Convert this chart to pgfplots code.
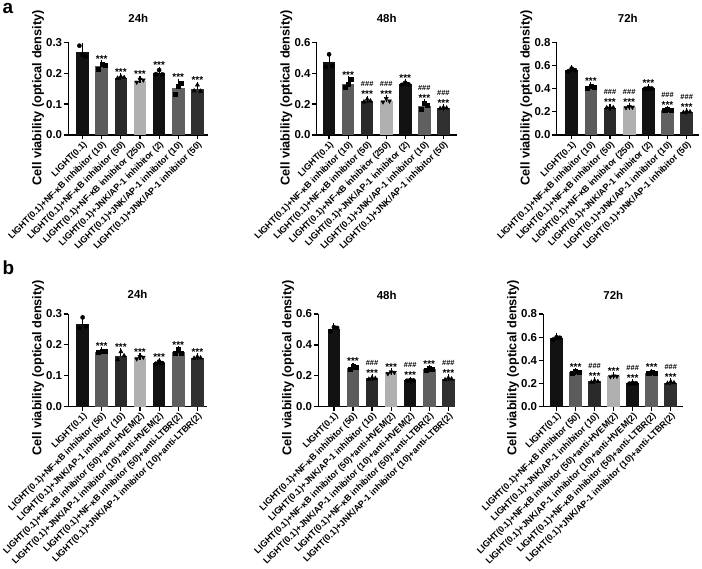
\documentclass[border=0pt]{standalone}
\usepackage{fontspec}
\setmainfont{Liberation Sans}
\usepackage{pgfplots}
\pgfplotsset{compat=1.18}

% bar fills, in group order
\definecolor{barA}{HTML}{121212}
\definecolor{barB}{HTML}{5C5C5C}
\definecolor{barC}{HTML}{2A2A2A}
\definecolor{barD}{HTML}{B0B0B0}
\definecolor{barE}{HTML}{121212}
\definecolor{barF}{HTML}{606060}
\definecolor{barG}{HTML}{303030}

\tikzset{
  starst/.style={font=\bfseries\fontsize{10}{10}\selectfont, anchor=south, inner sep=1bp},
  hashst/.style={font=\bfseries\fontsize{7.5}{7.5}\selectfont, anchor=south, inner sep=1bp, yshift=11bp},
}

\pgfplotsset{
  mk1/.style={mark=*, mark size=2.1bp},
  mk2/.style={mark=square*, mark size=2.0bp},
  mk3/.style={mark=triangle*, mark size=2.4bp},
  mk4/.style={mark=triangle*, mark size=2.4bp, mark options={rotate=180}},
  panel/.style={
    scale only axis, height=92.7bp, ymin=0, clip=false,
    axis x line*=bottom, axis y line*=left,
    axis line style={line width=1.3bp, -},
    tick style={black, line width=1.2bp},
    major tick length=4.5bp, tick align=outside,
    xtick={0,...,6},
    xticklabel style={rotate=45, anchor=north east, inner sep=0.5bp,
      font=\bfseries\fontsize{9}{9}\selectfont},
    yticklabel style={font=\bfseries\fontsize{11.5}{12}\selectfont, inner sep=1.5bp},
    /pgf/number format/assume math mode=true,
    /pgf/number format/fixed,
    /pgf/number format/fixed zerofill,
    /pgf/number format/precision=1,
    scaled y ticks=false,
    ylabel={Cell viability (optical density)},
    ylabel style={font=\bfseries\fontsize{12.8}{13}\selectfont, anchor=south, inner sep=0.5bp},
  },
  labelsA/.style={xticklabels={LIGHT(0.1), LIGHT(0.1)+NF-κB inhibitor (10), LIGHT(0.1)+NF-κB inhibitor (50), LIGHT(0.1)+NF-κB inhibitor (250), LIGHT(0.1)+JNK/AP-1 inhibitor (2), LIGHT(0.1)+JNK/AP-1 inhibitor (10), LIGHT(0.1)+JNK/AP-1 inhibitor (50)},
    ylabel style={at={(ticklabel cs:0.40)}}},
  labelsB/.style={xticklabels={LIGHT(0.1), LIGHT(0.1)+NF-κB inhibitor (50), LIGHT(0.1)+JNK/AP-1 inhibitor (10), LIGHT(0.1)+NF-κB inhibitor (50)+anti-HVEM(2), LIGHT(0.1)+JNK/AP-1 inhibitor (10)+anti-HVEM(2), LIGHT(0.1)+NF-κB inhibitor (50)+anti-LTBR(2), LIGHT(0.1)+JNK/AP-1 inhibitor (10)+anti-LTBR(2)},
    ylabel style={at={(ticklabel cs:0.42)}}},
}

% one group: x, fill, marker, mean, SD, three replicates, significance (0 none, 1 ***, 2 ### and ***)
\newcommand{\gbar}[9]{%
  \addplot[ybar, bar width=0.66, bar shift=0pt, fill=#2, draw=none,
    error bars/.cd, y dir=plus, y explicit,
    error bar style={black, line width=1.1bp},
    error mark options={black, line width=1.1bp, mark size=3.5bp}]
    coordinates {(#1,#4) +- (0,#5)};
  \pgfmathsetmacro\xl{#1-0.17}%
  \pgfmathsetmacro\xr{#1+0.17}%
  \addplot[only marks, black, #3] coordinates {(\xl,#6) (#1,#7) (\xr,#8)};
  \pgfmathsetmacro\topv{max(#4+#5,#6,#7,#8)}%
  \ifcase#9\relax\or
    \addplot[draw=none, mark=none, nodes near coords={***},
      every node near coord/.append style={starst}] coordinates {(#1,\topv)};
  \or
    \addplot[draw=none, mark=none, nodes near coords={***},
      every node near coord/.append style={starst}] coordinates {(#1,\topv)};
    \addplot[draw=none, mark=none, nodes near coords={\#\#\#},
      every node near coord/.append style={hashst}] coordinates {(#1,\topv)};
  \fi
}

\newcommand{\ttl}[2]{\node[font=\bfseries\fontsize{11.5}{12}\selectfont, anchor=base, yshift=#2] at (rel axis cs:0.5,1) {#1};}

\begin{document}
\begin{tikzpicture}
\path[use as bounding box] (0bp,0bp) rectangle (702bp,569bp);

\node[anchor=base west, inner sep=0, font=\bfseries\fontsize{19}{19}\selectfont] at (2.5bp,555.7bp) {a};
\node[anchor=base west, inner sep=0, font=\bfseries\fontsize{19}{19}\selectfont] at (2.5bp,294bp) {b};

% ---------- a: 24h ----------
\begin{axis}[panel, labelsA, at={(68.3bp,434bp)}, anchor=south west, width=140bp,
  xmin=-0.75, xmax=6.57, ymax=0.3, ytick={0,0.1,0.2,0.3}]
\gbar{0}{barA}{mk1}{0.268}{0.019}{0.289}{0.259}{0.254}{0}
\gbar{1}{barB}{mk2}{0.222}{0.008}{0.212}{0.230}{0.226}{1}
\gbar{2}{barC}{mk3}{0.185}{0.004}{0.184}{0.189}{0.186}{1}
\gbar{3}{barD}{mk4}{0.176}{0.005}{0.171}{0.180}{0.178}{1}
\gbar{4}{barE}{mk1}{0.201}{0.007}{0.197}{0.210}{0.196}{1}
\gbar{5}{barF}{mk2}{0.152}{0.019}{0.132}{0.157}{0.167}{1}
\gbar{6}{barG}{mk3}{0.149}{0.011}{0.143}{0.162}{0.142}{1}
\ttl{24h}{19.5bp}
\end{axis}

% ---------- a: 48h ----------
\begin{axis}[panel, labelsA, at={(316.7bp,434bp)}, anchor=south west, width=140bp,
  xmin=-0.65, xmax=6.7, ymax=0.6, ytick={0,0.2,0.4,0.6}]
\gbar{0}{barA}{mk1}{0.470}{0.046}{0.440}{0.522}{0.448}{0}
\gbar{1}{barB}{mk2}{0.333}{0.025}{0.312}{0.328}{0.360}{1}
\gbar{2}{barC}{mk3}{0.222}{0.009}{0.214}{0.232}{0.221}{2}
\gbar{3}{barD}{mk4}{0.223}{0.012}{0.214}{0.236}{0.220}{2}
\gbar{4}{barE}{mk1}{0.330}{0.007}{0.325}{0.338}{0.328}{1}
\gbar{5}{barF}{mk2}{0.188}{0.020}{0.166}{0.203}{0.195}{2}
\gbar{6}{barG}{mk3}{0.175}{0.003}{0.172}{0.178}{0.175}{2}
\ttl{48h}{19.5bp}
\end{axis}

% ---------- a: 72h ----------
\begin{axis}[panel, labelsA, at={(556.7bp,434bp)}, anchor=south west, width=142.3bp,
  xmin=-0.78, xmax=6.64, ymax=0.8, ytick={0,0.2,0.4,0.6,0.8}]
\gbar{0}{barA}{mk1}{0.561}{0.012}{0.550}{0.574}{0.560}{0}
\gbar{1}{barB}{mk2}{0.415}{0.010}{0.405}{0.424}{0.416}{1}
\gbar{2}{barC}{mk3}{0.237}{0.003}{0.235}{0.240}{0.236}{2}
\gbar{3}{barD}{mk4}{0.240}{0.005}{0.236}{0.245}{0.240}{2}
\gbar{4}{barE}{mk1}{0.402}{0.004}{0.399}{0.405}{0.402}{1}
\gbar{5}{barF}{mk2}{0.216}{0.005}{0.212}{0.222}{0.215}{2}
\gbar{6}{barG}{mk3}{0.200}{0.005}{0.195}{0.205}{0.200}{2}
\ttl{72h}{19.5bp}
\end{axis}

% ---------- b: 24h ----------
\begin{axis}[panel, labelsB, at={(68.3bp,162.3bp)}, anchor=south west, width=138.4bp,
  xmin=-0.75, xmax=6.49, ymax=0.3, ytick={0,0.1,0.2,0.3}]
\gbar{0}{barA}{mk1}{0.268}{0.019}{0.255}{0.289}{0.260}{0}
\gbar{1}{barB}{mk2}{0.178}{0.003}{0.176}{0.181}{0.178}{1}
\gbar{2}{barC}{mk3}{0.165}{0.013}{0.152}{0.178}{0.165}{1}
\gbar{3}{barD}{mk4}{0.159}{0.004}{0.155}{0.162}{0.160}{1}
\gbar{4}{barE}{mk1}{0.142}{0.004}{0.139}{0.146}{0.141}{1}
\gbar{5}{barF}{mk2}{0.176}{0.008}{0.172}{0.185}{0.172}{1}
\gbar{6}{barG}{mk3}{0.159}{0.003}{0.157}{0.162}{0.158}{1}
\ttl{24h}{15bp}
\end{axis}

% ---------- b: 48h ----------
\begin{axis}[panel, labelsB, at={(318.3bp,162.3bp)}, anchor=south west, width=136.7bp,
  xmin=-0.82, xmax=6.35, ymax=0.6, ytick={0,0.2,0.4,0.6}]
\gbar{0}{barA}{mk1}{0.505}{0.013}{0.490}{0.515}{0.510}{0}
\gbar{1}{barB}{mk2}{0.253}{0.010}{0.243}{0.262}{0.255}{1}
\gbar{2}{barC}{mk3}{0.183}{0.005}{0.178}{0.188}{0.183}{2}
\gbar{3}{barD}{mk4}{0.220}{0.006}{0.214}{0.225}{0.222}{1}
\gbar{4}{barE}{mk1}{0.170}{0.002}{0.168}{0.172}{0.170}{2}
\gbar{5}{barF}{mk2}{0.242}{0.006}{0.236}{0.247}{0.243}{1}
\gbar{6}{barG}{mk3}{0.180}{0.006}{0.175}{0.186}{0.180}{2}
\ttl{48h}{15bp}
\end{axis}

% ---------- b: 72h ----------
\begin{axis}[panel, labelsB, at={(543.3bp,162.3bp)}, anchor=south west, width=140bp,
  xmin=-0.7, xmax=6.66, ymax=0.8, ytick={0,0.2,0.4,0.6,0.8}]
\gbar{0}{barA}{mk1}{0.592}{0.010}{0.580}{0.600}{0.595}{0}
\gbar{1}{barB}{mk2}{0.298}{0.005}{0.293}{0.303}{0.298}{1}
\gbar{2}{barC}{mk3}{0.218}{0.007}{0.212}{0.225}{0.217}{2}
\gbar{3}{barD}{mk4}{0.262}{0.003}{0.259}{0.265}{0.262}{1}
\gbar{4}{barE}{mk1}{0.202}{0.003}{0.199}{0.205}{0.202}{2}
\gbar{5}{barF}{mk2}{0.290}{0.007}{0.285}{0.298}{0.287}{1}
\gbar{6}{barG}{mk3}{0.208}{0.007}{0.202}{0.215}{0.207}{2}
\ttl{72h}{15bp}
\end{axis}
\end{tikzpicture}
\end{document}
